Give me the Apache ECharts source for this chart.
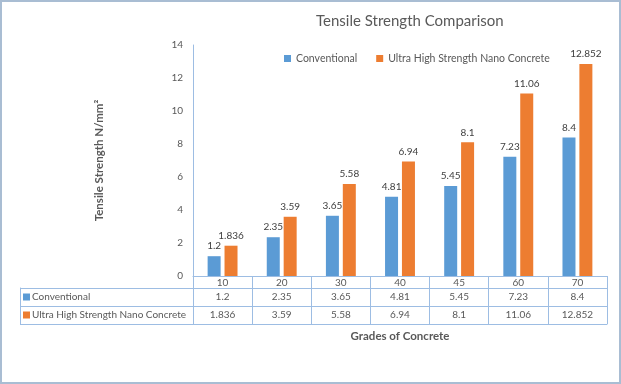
<!DOCTYPE html>
<html>
<head>
<meta charset="utf-8">
<script src="https://cdn.jsdelivr.net/npm/echarts@6/dist/echarts.min.js"></script>
<style>html,body{margin:0;padding:0;background:#fff}#c{width:621px;height:384px}</style>
</head>
<body>
<div id="c"></div>
<script>
const grades = ['10', '20', '30', '40', '45', '60', '70'];
const conventional = [1.2, 2.35, 3.65, 4.81, 5.45, 7.23, 8.4];
const uhsnc = [1.836, 3.59, 5.58, 6.94, 8.1, 11.06, 12.852];
const seriesNames = ['Conventional', 'Ultra High Strength Nano Concrete'];
const yTicks = { min: 0, max: 14, interval: 2 };

const FONT = 'Lato, "Open Sans", sans-serif';
const BLUE = '#5B9BD5', ORANGE = '#ED7D31';
const LINE = '#9dbde3';
const TXT = '#595959';

const chart = echarts.init(document.getElementById('c'), null, { renderer: 'canvas' });

const tableAxis = (data, offset, showLabel) => ({
  type: 'category', gridIndex: 0, position: 'bottom', offset: offset, data: data,
  axisLine: { show: true, lineStyle: { color: LINE, width: 1 } },
  axisTick: { show: false },
  axisLabel: { show: showLabel, interval: 0, margin: 4, color: TXT, fontSize: 10, fontFamily: FONT },
  splitLine: { show: false }
});

const option = {
  animation: false,
  textStyle: { fontFamily: FONT },
  title: {
    text: 'Tensile Strength Comparison', left: 311, top: 9,
    textStyle: { fontFamily: FONT, fontSize: 15, fontWeight: 'normal', color: TXT }
  },
  legend: {
    left: 279, top: 48, itemWidth: 7, itemHeight: 7, itemGap: 19, icon: 'rect',
    textStyle: { fontFamily: FONT, fontSize: 10.5, color: TXT },
    data: seriesNames
  },
  graphic: [{
    type: 'rect', silent: true, z: 100,
    shape: { x: 1, y: 1, width: 619, height: 382 },
    style: { fill: 'none', stroke: '#a9bdd3', lineWidth: 2 }
  }],
  grid: [
    { left: 193, right: 14, top: 45, bottom: 108, containLabel: false },
    { left: 20, width: 173, top: 288, height: 36, containLabel: false }
  ],
  xAxis: [
    {
      type: 'category', gridIndex: 0, position: 'bottom', data: grades,
      name: 'Grades of Concrete', nameLocation: 'middle', nameGap: 54,
      nameTextStyle: { fontFamily: FONT, fontSize: 11.5, fontWeight: 'bold', color: TXT },
      axisLine: { show: true, lineStyle: { color: LINE, width: 1 } },
      axisTick: { show: true, length: 48, alignWithLabel: false, interval: 0, lineStyle: { color: LINE, width: 1 } },
      axisLabel: { interval: 0, margin: 2, color: TXT, fontSize: 10, fontFamily: FONT },
      splitLine: { show: false }
    },
    tableAxis(conventional.map(String), 12, true),
    tableAxis(uhsnc.map(String), 30, true),
    tableAxis(grades, 48, false),
    { type: 'value', gridIndex: 1, show: false }
  ],
  yAxis: [
    {
      type: 'value', gridIndex: 0, min: yTicks.min, max: yTicks.max, interval: yTicks.interval,
      name: 'Tensile Strength N/mm²', nameLocation: 'middle', nameGap: 88, nameRotate: 90,
      nameTextStyle: { fontFamily: FONT, fontSize: 11.5, fontWeight: 'bold', color: TXT },
      axisLine: { show: true, lineStyle: { color: LINE, width: 1 } },
      axisTick: { show: false },
      axisLabel: { margin: 10, color: TXT, fontSize: 10, fontFamily: FONT },
      splitLine: { show: false }
    },
    {
      type: 'category', gridIndex: 1, inverse: true, data: seriesNames,
      axisLine: { show: true, lineStyle: { color: LINE, width: 1 } },
      axisTick: { show: false },
      splitLine: { show: true, lineStyle: { color: LINE, width: 1 } },
      axisLabel: {
        inside: true, margin: 3, interval: 0,
        formatter: (v, i) => (i === 0 ? '{b|}' : '{o|}') + '{t|' + v + '}',
        rich: {
          b: { width: 7, height: 7, backgroundColor: BLUE },
          o: { width: 7, height: 7, backgroundColor: ORANGE },
          t: { fontFamily: FONT, fontSize: 10, color: TXT, padding: [0, 0, 0, 2] }
        }
      }
    }
  ],
  series: [
    {
      name: seriesNames[0], type: 'bar', xAxisIndex: 0, yAxisIndex: 0, data: conventional,
      barWidth: 13, barGap: '30%', itemStyle: { color: BLUE },
      label: { show: true, position: 'top', distance: 5, color: '#404040', fontSize: 10, fontFamily: FONT }
    },
    {
      name: seriesNames[1], type: 'bar', xAxisIndex: 0, yAxisIndex: 0, data: uhsnc,
      barWidth: 13, barGap: '30%', itemStyle: { color: ORANGE },
      label: { show: true, position: 'top', distance: 5, color: '#404040', fontSize: 10, fontFamily: FONT }
    }
  ]
};
chart.setOption(option);
</script>
</body>
</html>
